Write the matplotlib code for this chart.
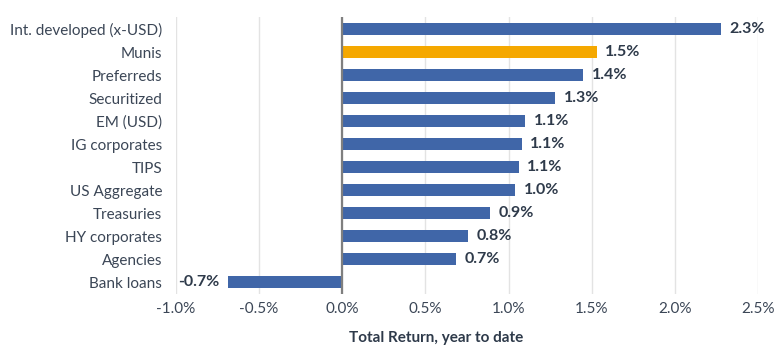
import matplotlib.pyplot as plt

categories = ["Int. developed (x-USD)", "Munis", "Preferreds", "Securitized",
              "EM (USD)", "IG corporates", "TIPS", "US Aggregate", "Treasuries",
              "HY corporates", "Agencies", "Bank loans"]
returns = [2.28, 1.53, 1.45, 1.28, 1.10, 1.08, 1.06, 1.04, 0.89, 0.755, 0.685, -0.69]
highlight = "Munis"
x_ticks = [-1.0, -0.5, 0.0, 0.5, 1.0, 1.5, 2.0, 2.5]

blue = "#4066a8"
orange = "#f5a800"
text_col = "#3b4656"

plt.rcParams['font.family'] = ['Lato', 'DejaVu Sans']

fig = plt.figure(figsize=(7.8, 3.5), dpi=100)
ax = fig.add_axes([0.2256, 0.16, 0.7462, 0.791])

colors = [orange if c == highlight else blue for c in categories]
ypos = list(range(len(categories)))
ax.barh(ypos, returns, height=0.55, color=colors, zorder=3)

for y, v in zip(ypos, returns):
    label = f"{v:.1f}%"
    if v >= 0:
        ax.annotate(label, (v, y), xytext=(6, 0), textcoords="offset points",
                    va="center", ha="left", fontsize=11.5, fontweight="bold", color="#2e3a4a")
    else:
        ax.annotate(label, (v, y), xytext=(-6, 0), textcoords="offset points",
                    va="center", ha="right", fontsize=11.5, fontweight="bold", color="#2e3a4a")

ax.set_xlim(-1.0, 2.5)
ax.set_ylim(len(categories) - 0.48, -0.52)
ax.set_xticks(x_ticks)
ax.set_xticklabels([f"{t:.1f}%" for t in x_ticks])
ax.set_yticks(ypos)
ax.set_yticklabels(categories)

ax.grid(axis="x", color="#e3e3e3", linewidth=1, zorder=0)
ax.axvline(0, color="#7f7f7f", linewidth=1.6, zorder=4)
for s in ax.spines.values():
    s.set_visible(False)
ax.tick_params(axis="both", length=0, colors=text_col, labelsize=11)
ax.tick_params(axis="y", pad=10)
ax.tick_params(axis="x", pad=6)

ax.set_xlabel("Total Return, year to date", fontsize=11, fontweight="bold", color="#2e3a4a")
ax.xaxis.set_label_coords(0.447, -0.135)

fig.savefig("out.png", dpi=100)
